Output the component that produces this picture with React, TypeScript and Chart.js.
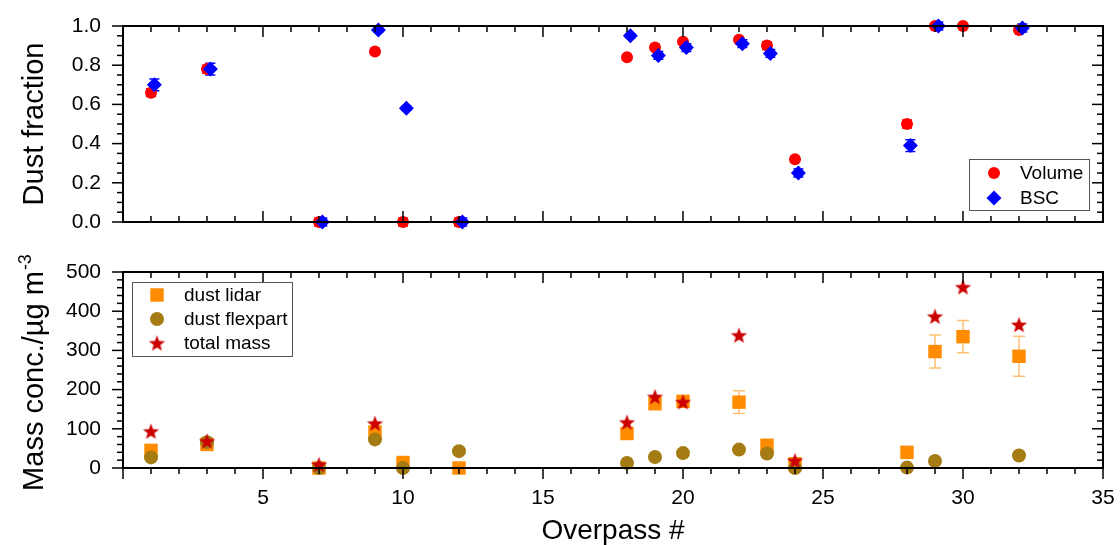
import React, { useEffect, useRef } from 'react';
import { Chart, registerables } from 'chart.js';

Chart.register(...registerables);

const FONT = '"Liberation Sans", Arial, Helvetica, sans-serif';

// ---------- top panel: dust fraction ----------
const volumeOverpass = [1, 3, 7, 9, 10, 12, 18, 19, 20, 22, 23, 24, 28, 29, 30, 32];
const volumeFraction = [0.66, 0.78, 0.0, 0.87, 0.0, 0.0, 0.84, 0.89, 0.92, 0.93, 0.9, 0.32, 0.5, 1.0, 1.0, 0.98];
const volumeError = [0.02, 0.02, 0.02, 0.01, 0.02, 0.02, 0.01, 0.01, 0.01, 0.01, 0.02, 0.01, 0.02, 0.01, 0.01, 0.01];

const bscOverpass = [1, 3, 7, 9, 10, 12, 18, 19, 20, 22, 23, 24, 28, 29, 32];
const bscFraction = [0.7, 0.78, 0.0, 0.98, 0.58, 0.0, 0.95, 0.85, 0.89, 0.91, 0.86, 0.25, 0.39, 1.0, 0.99];
const bscError = [0.03, 0.03, 0.02, 0.01, 0.01, 0.02, 0.01, 0.02, 0.02, 0.02, 0.02, 0.02, 0.03, 0.02, 0.02];
const BSC_X_OFFSET = 0.12;

// ---------- bottom panel: mass concentration ----------
const lidarOverpass = [1, 3, 7, 9, 10, 12, 18, 19, 20, 22, 23, 24, 28, 29, 30, 32];
const lidarMass = [45, 60, 0, 92, 14, 0, 88, 164, 170, 168, 58, 11, 40, 297, 335, 285];
const lidarError = [5, 5, 2, 8, 3, 2, 8, 8, 8, 29, 6, 4, 4, 42, 41, 51];

const flexOverpass = [1, 3, 7, 9, 10, 12, 18, 19, 20, 22, 23, 24, 28, 29, 32];
const flexMass = [27, 66, 0, 73, 0, 43, 13, 28, 38, 47, 37, 0, 1, 18, 32];

const totalOverpass = [1, 3, 7, 9, 18, 19, 20, 22, 24, 29, 30, 32];
const totalMass = [94, 69, 9, 114, 117, 182, 169, 339, 19, 387, 462, 366];

// ---------- axis / tick settings ----------
const X_MIN = 0;
const X_MAX = 35;
const X_MAJOR = 5;
const X_MINOR = 1;
const FRAC_MAX = 1;
const FRAC_MAJOR = 0.2;
const FRAC_MINOR = 0.05;
const MASS_MAX = 500;
const MASS_MAJOR = 100;
const MASS_MINOR = 20;

const TITLE_TOP = 'Dust fraction';
const TITLE_BOTTOM = 'Mass conc./\u00b5g m';
const TITLE_BOTTOM_SUP = '-3';
const TITLE_X = 'Overpass #';

const RED = '#FF0000';
const BLUE = '#0000FF';
const ORANGE = '#FF8C00';
const OLIVE = '#A57C14';
const WINE = '#CC0000';

function makeStar(size: number, color: string) {
  const c = document.createElement('canvas');
  c.width = size;
  c.height = size;
  const ctx = c.getContext('2d')!;
  const R = size / 2;
  const r = R * 0.42;
  const cx = size / 2;
  const cy = size / 2 + R * 0.1;
  ctx.beginPath();
  for (let i = 0; i < 10; i++) {
    const a = -Math.PI / 2 + (i * Math.PI) / 5;
    const rad = i % 2 === 0 ? R : r;
    ctx.lineTo(cx + rad * Math.cos(a), cy + rad * Math.sin(a));
  }
  ctx.closePath();
  ctx.fillStyle = color;
  ctx.fill();
  return c;
}

function drawMarker(ctx: CanvasRenderingContext2D, style: any, x: number, y: number, r: number, color: string) {
  ctx.save();
  ctx.fillStyle = color;
  if (style === 'circle') {
    ctx.beginPath();
    ctx.arc(x, y, r, 0, Math.PI * 2);
    ctx.fill();
  } else if (style === 'rectRot') {
    ctx.beginPath();
    ctx.moveTo(x, y - r);
    ctx.lineTo(x + r, y);
    ctx.lineTo(x, y + r);
    ctx.lineTo(x - r, y);
    ctx.closePath();
    ctx.fill();
  } else if (style === 'rect') {
    const s = r * Math.SQRT1_2;
    ctx.fillRect(x - s, y - s, 2 * s, 2 * s);
  } else if (style instanceof HTMLCanvasElement) {
    ctx.drawImage(style, x - style.width / 2, y - style.height / 2);
  }
  ctx.restore();
}

const noPad = (s: any) => {
  s.paddingTop = 0;
  s.paddingBottom = 0;
  s.paddingLeft = 0;
  s.paddingRight = 0;
};

type DecorCfg = {
  yMajor: number;
  yMinor: number;
  yMax: number;
  bottomOut: boolean;
  titleY: string;
  titleSup?: string;
  titleCenterY: number;
  xTitle?: { text: string; x: number; y: number };
  legend: { box: [number, number, number, number]; markerX: number; textX: number; rowY: number[]; items: number[] };
};

function makeDecor(cfg: DecorCfg) {
  return {
    id: 'decor',
    beforeDatasetsDraw(chart: any) {
      const ctx = chart.ctx as CanvasRenderingContext2D;
      const ys = chart.scales.y;
      chart.data.datasets.forEach((ds: any, i: number) => {
        if (!ds.errors) return;
        const meta = chart.getDatasetMeta(i);
        ctx.save();
        ctx.strokeStyle = ds.errColor;
        ctx.lineWidth = 1.5;
        meta.data.forEach((el: any, j: number) => {
          const v = ds.data[j].y;
          const e = ds.errors[j];
          if (!e) return;
          const y1 = ys.getPixelForValue(v - e);
          const y2 = ys.getPixelForValue(v + e);
          const w = ds.capHalf;
          ctx.beginPath();
          ctx.moveTo(el.x, y1);
          ctx.lineTo(el.x, y2);
          ctx.moveTo(el.x - w, y1);
          ctx.lineTo(el.x + w, y1);
          ctx.moveTo(el.x - w, y2);
          ctx.lineTo(el.x + w, y2);
          ctx.stroke();
        });
        ctx.restore();
      });
    },
    afterDraw(chart: any) {
      const ctx = chart.ctx as CanvasRenderingContext2D;
      const a = chart.chartArea;
      const xs = chart.scales.x;
      const ys = chart.scales.y;
      const MAJ = 11;
      const MIN = 6;
      ctx.save();
      ctx.strokeStyle = '#000';
      ctx.lineWidth = 1.5;
      const line = (x1: number, y1: number, x2: number, y2: number) => {
        ctx.beginPath();
        ctx.moveTo(x1, y1);
        ctx.lineTo(x2, y2);
        ctx.stroke();
      };
      const nX = Math.round((X_MAX - X_MIN) / X_MINOR);
      for (let k = 0; k <= nX; k++) {
        const v = X_MIN + k * X_MINOR;
        const isMaj = Math.abs(v / X_MAJOR - Math.round(v / X_MAJOR)) < 1e-6;
        const L = isMaj ? MAJ : MIN;
        const px = xs.getPixelForValue(v);
        line(px, a.top, px, a.top + L);
        if (cfg.bottomOut) line(px, a.bottom, px, a.bottom + L);
        else line(px, a.bottom, px, a.bottom - L);
      }
      const nY = Math.round(cfg.yMax / cfg.yMinor);
      for (let k = 0; k <= nY; k++) {
        const v = k * cfg.yMinor;
        const isMaj = Math.abs(v / cfg.yMajor - Math.round(v / cfg.yMajor)) < 1e-6;
        const L = isMaj ? MAJ : MIN;
        const py = ys.getPixelForValue(v);
        line(a.left, py, a.left - L, py);
        line(a.right, py, a.right - L, py);
      }
      ctx.lineWidth = 2;
      ctx.strokeRect(a.left, a.top, a.right - a.left, a.bottom - a.top);

      // y title
      ctx.fillStyle = '#000';
      ctx.save();
      ctx.translate(43, cfg.titleCenterY);
      ctx.rotate(-Math.PI / 2);
      ctx.font = `29px ${FONT}`;
      ctx.textBaseline = 'alphabetic';
      ctx.textAlign = 'left';
      const w1 = ctx.measureText(cfg.titleY).width;
      let w2 = 0;
      if (cfg.titleSup) {
        ctx.font = `18px ${FONT}`;
        w2 = ctx.measureText(cfg.titleSup).width;
      }
      const start = -(w1 + w2) / 2;
      ctx.font = `29px ${FONT}`;
      ctx.fillText(cfg.titleY, start, 0);
      if (cfg.titleSup) {
        ctx.font = `18px ${FONT}`;
        ctx.fillText(cfg.titleSup, start + w1 + 1, -12);
      }
      ctx.restore();

      // x title
      if (cfg.xTitle) {
        ctx.font = `28px ${FONT}`;
        ctx.textAlign = 'center';
        ctx.textBaseline = 'alphabetic';
        ctx.fillText(cfg.xTitle.text, cfg.xTitle.x, cfg.xTitle.y);
      }

      // legend
      const lg = cfg.legend;
      ctx.fillStyle = '#fff';
      ctx.fillRect(lg.box[0], lg.box[1], lg.box[2] - lg.box[0], lg.box[3] - lg.box[1]);
      ctx.strokeStyle = '#555';
      ctx.lineWidth = 1;
      ctx.strokeRect(lg.box[0] + 0.5, lg.box[1] + 0.5, lg.box[2] - lg.box[0], lg.box[3] - lg.box[1]);
      lg.items.forEach((di, row) => {
        const ds = chart.data.datasets[di];
        const y = lg.rowY[row];
        drawMarker(ctx, ds.pointStyle, lg.markerX, y, ds.pointRadius, ds.backgroundColor);
        ctx.fillStyle = '#000';
        ctx.font = `19px ${FONT}`;
        ctx.textAlign = 'left';
        ctx.textBaseline = 'middle';
        ctx.fillText(ds.label, lg.textX, y + 1);
      });
      ctx.restore();
    },
  };
}

export default function App() {
  const topRef = useRef<HTMLCanvasElement>(null);
  const botRef = useRef<HTMLCanvasElement>(null);

  useEffect(() => {
    const star = makeStar(17, WINE);
    const tickFont = { family: FONT, size: 21 };

    const top = new Chart(topRef.current!, {
      type: 'scatter',
      data: {
        datasets: [
          {
            label: 'Volume',
            data: volumeOverpass.map((x, i) => ({ x, y: volumeFraction[i] })),
            errors: volumeError,
            errColor: RED,
            capHalf: 5,
            pointStyle: 'circle',
            pointRadius: 6,
            backgroundColor: RED,
            borderWidth: 0,
            order: 1,
            clip: false,
          } as any,
          {
            label: 'BSC',
            data: bscOverpass.map((x, i) => ({ x: x + BSC_X_OFFSET, y: bscFraction[i] })),
            errors: bscError,
            errColor: BLUE,
            capHalf: 5,
            pointStyle: 'rectRot',
            pointRadius: 7.5,
            backgroundColor: BLUE,
            borderWidth: 0,
            order: 0,
            clip: false,
          } as any,
        ],
      },
      options: {
        responsive: false,
        animation: false,
        devicePixelRatio: 1,
        events: [],
        layout: { padding: { left: 0, right: 17, top: 26, bottom: 18 } },
        plugins: { legend: { display: false }, tooltip: { enabled: false } },
        scales: {
          x: { type: 'linear', min: X_MIN, max: X_MAX, display: false, afterFit: noPad },
          y: {
            type: 'linear',
            min: 0,
            max: FRAC_MAX,
            ticks: {
              stepSize: FRAC_MAJOR,
              padding: 22,
              color: '#000',
              font: tickFont,
              callback: (v: any) => Number(v).toFixed(1),
            },
            grid: { display: false, drawTicks: false },
            border: { display: false },
            afterFit: (s: any) => {
              s.width = 123;
              noPad(s);
            },
          },
        },
      } as any,
      plugins: [
        makeDecor({
          yMajor: FRAC_MAJOR,
          yMinor: FRAC_MINOR,
          yMax: FRAC_MAX,
          bottomOut: false,
          titleY: TITLE_TOP,
          titleCenterY: 124,
          legend: { box: [969, 159, 1089, 210], markerX: 994, textX: 1020, rowY: [173, 198], items: [0, 1] },
        }),
      ],
    });

    const bot = new Chart(botRef.current!, {
      type: 'scatter',
      data: {
        datasets: [
          {
            label: 'dust lidar',
            data: lidarOverpass.map((x, i) => ({ x, y: lidarMass[i] })),
            errors: lidarError,
            errColor: 'rgba(255,140,0,0.55)',
            capHalf: 6,
            pointStyle: 'rect',
            pointRadius: 9.5,
            backgroundColor: ORANGE,
            borderWidth: 0,
            order: 2,
            clip: false,
          } as any,
          {
            label: 'dust flexpart',
            data: flexOverpass.map((x, i) => ({ x, y: flexMass[i] })),
            pointStyle: 'circle',
            pointRadius: 7,
            backgroundColor: OLIVE,
            borderWidth: 0,
            order: 1,
            clip: false,
          } as any,
          {
            label: 'total mass',
            data: totalOverpass.map((x, i) => ({ x, y: totalMass[i] })),
            pointStyle: star,
            pointRadius: 8,
            backgroundColor: WINE,
            borderWidth: 0,
            order: 0,
            clip: false,
          } as any,
        ],
      },
      options: {
        responsive: false,
        animation: false,
        devicePixelRatio: 1,
        events: [],
        layout: { padding: { left: 0, right: 17, top: 32, bottom: 0 } },
        plugins: { legend: { display: false }, tooltip: { enabled: false } },
        scales: {
          x: {
            type: 'linear',
            min: X_MIN,
            max: X_MAX,
            ticks: {
              stepSize: X_MAJOR,
              padding: 18,
              color: '#000',
              font: tickFont,
              maxRotation: 0,
              callback: (v: any) => (Number(v) === 0 ? '' : String(v)),
            },
            grid: { display: false, drawTicks: false },
            border: { display: false },
            afterFit: (s: any) => {
              s.height = 77;
              noPad(s);
            },
          },
          y: {
            type: 'linear',
            min: 0,
            max: MASS_MAX,
            ticks: {
              stepSize: MASS_MAJOR,
              padding: 22,
              color: '#000',
              font: tickFont,
            },
            grid: { display: false, drawTicks: false },
            border: { display: false },
            afterFit: (s: any) => {
              s.width = 123;
              noPad(s);
            },
          },
        },
      } as any,
      plugins: [
        makeDecor({
          yMajor: MASS_MAJOR,
          yMinor: MASS_MINOR,
          yMax: MASS_MAX,
          bottomOut: true,
          titleY: TITLE_BOTTOM,
          titleSup: TITLE_BOTTOM_SUP,
          titleCenterY: 133,
          xTitle: { text: TITLE_X, x: 613, y: 299 },
          legend: { box: [132, 42, 292, 116], markerX: 157, textX: 184, rowY: [55, 79, 103], items: [0, 1, 2] },
        }),
      ],
    });

    return () => {
      top.destroy();
      bot.destroy();
    };
  }, []);

  return (
    <div style={{ position: 'absolute', left: 0, top: 0, width: 1120, height: 545, background: '#fff' }}>
      <canvas ref={topRef} width={1120} height={240} style={{ position: 'absolute', left: 0, top: 0 }} />
      <canvas ref={botRef} width={1120} height={305} style={{ position: 'absolute', left: 0, top: 240 }} />
    </div>
  );
}
